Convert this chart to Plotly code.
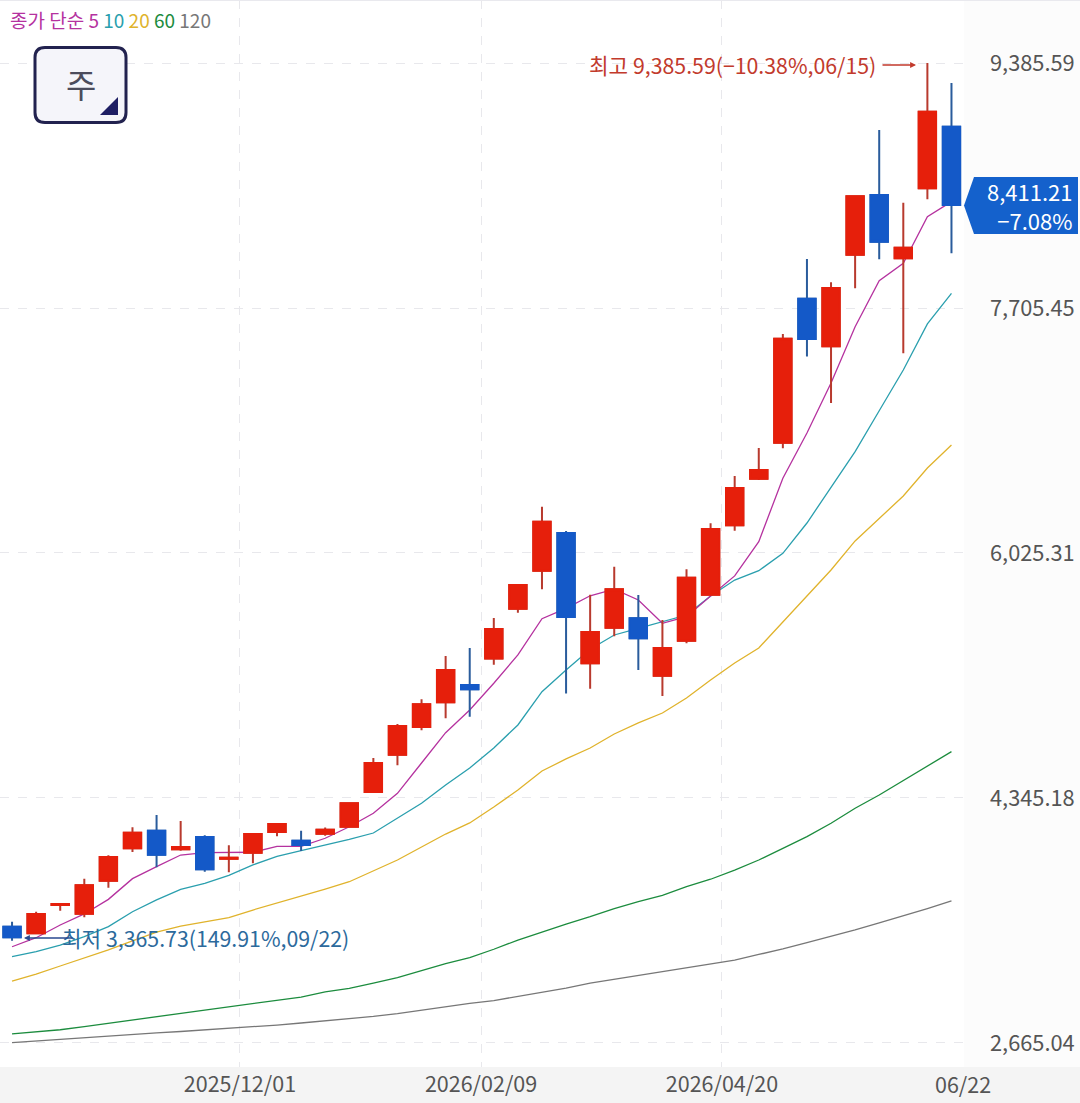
import plotly.graph_objects as go

WIDTH, HEIGHT = 1080, 1103
PLOT_W, PLOT_H = 964, 1067

opens = [3463, 3417, 3611, 3552, 3778, 4000, 4121, 3993, 4078, 3929,
         3970, 4112, 4052, 4100, 4148, 4386, 4642, 4832, 5001, 5120,
         5301, 5643, 5904, 6163, 5269, 5513, 5578, 5184, 5424, 5739,
         6215, 6535, 6782, 7769, 7443, 8071, 8481, 8047, 8526, 8949]
highs = [3497, 3565, 3618, 3792, 3952, 4144, 4229, 4187, 4089, 4021,
         4098, 4174, 4121, 4142, 4313, 4620, 4853, 5022, 5319, 5374,
         5580, 5806, 6343, 6176, 5739, 5931, 5737, 5566, 5914, 6229,
         6553, 6745, 7527, 8042, 7882, 8472, 8926, 8428, 9385.59, 9249]
lows = [3365.73, 3413, 3572, 3527, 3730, 3975, 3870, 3984, 3840, 3836,
        3897, 4083, 3982, 4087, 4148, 4382, 4569, 4809, 4892, 4903,
        5259, 5616, 5776, 5061, 5095, 5454, 5223, 5045, 5406, 5739,
        6178, 6526, 6743, 7372, 7054, 7841, 8040, 7395, 8451, 8081]
closes = [3390, 3550, 3618, 3746, 3941, 4107, 3956, 4009, 3856, 3936,
          4098, 4167, 4023, 4128, 4309, 4585, 4839, 4988, 5223, 5091,
          5504, 5806, 6240, 5586, 5484, 5776, 5440, 5374, 5856, 6190,
          6471, 6595, 7495, 7493, 7843, 8472, 8160, 8119, 9052, 8411.21]

ma5 = [3325, 3387, 3474, 3550, 3650, 3792, 3874, 3954, 3971, 3973,
       3973, 4014, 4014, 4069, 4148, 4240, 4377, 4585, 4793, 4949,
       5132, 5326, 5575, 5646, 5732, 5777, 5703, 5543, 5589, 5731,
       5868, 6103, 6538, 6848, 7191, 7577, 7893, 8012, 8332, 8435]
ma10 = [3257, 3291, 3337, 3394, 3463, 3565, 3646, 3719, 3760, 3815,
        3886, 3945, 3984, 4021, 4062, 4105, 4206, 4309, 4434, 4551,
        4688, 4846, 5074, 5223, 5365, 5463, 5509, 5554, 5600, 5731,
        5840, 5904, 6023, 6231, 6471, 6720, 7001, 7280, 7596, 7806]
ma20 = [3090, 3138, 3193, 3248, 3303, 3365, 3426, 3467, 3495, 3524,
        3577, 3625, 3668, 3721, 3771, 3845, 3920, 4009, 4098, 4174,
        4283, 4400, 4530, 4613, 4688, 4784, 4860, 4928, 5031, 5154,
        5271, 5374, 5552, 5737, 5909, 6108, 6259, 6416, 6608, 6766]
ma60 = [2727, 2740, 2756, 2778, 2801, 2823, 2846, 2869, 2891, 2915,
        2937, 2960, 2980, 3015, 3039, 3076, 3114, 3162, 3210, 3251,
        3308, 3371, 3428, 3481, 3531, 3586, 3634, 3678, 3737, 3788,
        3851, 3920, 4000, 4080, 4172, 4275, 4366, 4464, 4565, 4663]
ma120 = [2667, 2679, 2690, 2701, 2713, 2723, 2734, 2744, 2754, 2764,
         2777, 2788, 2802, 2816, 2830, 2847, 2866, 2891, 2912, 2936,
         2956, 2984, 3015, 3042, 3076, 3102, 3128, 3155, 3179, 3203,
         3234, 3272, 3310, 3354, 3395, 3440, 3488, 3536, 3587, 3639]

y_ticks = [2665.04, 4345.18, 6025.31, 7705.45, 9385.59]
y_labels = ["2,665.04", "4,345.18", "6,025.31", "7,705.45", "9,385.59"]
x_ticks = [9.46, 19.47, 29.47]
x_labels = ["2025/12/01", "2026/02/09", "2026/04/20"]

FONT = "Noto Sans CJK KR"
RED, BLUE = "#e61f0b", "#1459c8"
WICK_RED, WICK_BLUE = "#b83a2e", "#2a5c9c"
GRID = "#e8e8ec"
MA_COLORS = {"5": "#b5329f", "10": "#2a9fae", "20": "#e0b32c", "60": "#1c8c3e", "120": "#777777"}


# pixel position on the page -> paper coordinates
def px(x):
    return x / PLOT_W


def py(y):
    return 1 - y / PLOT_H


def path(points):
    return "M" + " L".join(f"{px(x)},{py(y)}" for x, y in points) + " Z"


x = list(range(len(closes)))
fig = go.Figure()

for name, values in [("120", ma120), ("60", ma60), ("20", ma20), ("10", ma10), ("5", ma5)]:
    fig.add_trace(go.Scatter(x=x, y=values, mode="lines", name=name,
                             line=dict(color=MA_COLORS[name], width=1.3)))

# wicks first, bodies on top so that they can have different colours
fig.add_trace(go.Candlestick(x=x, open=opens, high=highs, low=lows, close=closes,
                             xaxis="x2", yaxis="y2", whiskerwidth=0,
                             increasing=dict(line=dict(color=WICK_RED, width=2), fillcolor=RED),
                             decreasing=dict(line=dict(color=WICK_BLUE, width=2), fillcolor=BLUE)))
body_high = [max(o, c) for o, c in zip(opens, closes)]
body_low = [min(o, c) for o, c in zip(opens, closes)]
fig.add_trace(go.Candlestick(x=x, open=opens, high=body_high, low=body_low, close=closes,
                             xaxis="x2", yaxis="y2", whiskerwidth=0,
                             increasing=dict(line=dict(color=RED, width=2), fillcolor=RED),
                             decreasing=dict(line=dict(color=BLUE, width=2), fillcolor=BLUE)))

shapes = [
    dict(type="rect", xref="paper", yref="paper", x0=1, x1=px(WIDTH), y0=0, y1=1,
         fillcolor="#fcfcfc", line_width=0, layer="below"),
    dict(type="line", xref="paper", yref="paper", x0=0, x1=px(WIDTH), y0=py(0.5), y1=py(0.5),
         line=dict(color="#e9e9ee", width=1)),
    # price tag
    dict(type="path", xref="paper", yref="paper", fillcolor="#1461cc", line_width=0,
         path=path([(964, 205.5), (974, 177), (1078, 177), (1078, 234), (974, 234)])),
    # "주" button
    dict(type="path", xref="paper", yref="paper", fillcolor="#f5f5fa",
         line=dict(color="#22224f", width=3),
         path=f"M{px(45)},{py(47.5)} L{px(116)},{py(47.5)} Q{px(126)},{py(47.5)} {px(126)},{py(57.5)} "
              f"L{px(126)},{py(112.5)} Q{px(126)},{py(122.5)} {px(116)},{py(122.5)} "
              f"L{px(45)},{py(122.5)} Q{px(35)},{py(122.5)} {px(35)},{py(112.5)} "
              f"L{px(35)},{py(57.5)} Q{px(35)},{py(47.5)} {px(45)},{py(47.5)} Z"),
    dict(type="path", xref="paper", yref="paper", fillcolor="#1e1e64", line_width=0,
         path=path([(118, 97), (118, 115), (100, 115)])),
]

legend_text = (f"<span style='color:{MA_COLORS['5']}'>종가 단순 5</span> "
               f"<span style='color:{MA_COLORS['10']}'>10</span> "
               f"<span style='color:{MA_COLORS['20']}'>20</span> "
               f"<span style='color:{MA_COLORS['60']}'>60</span> "
               f"<span style='color:{MA_COLORS['120']}'>120</span>")


def note(x_px, y_px, text, size, color, anchor="left"):
    return dict(xref="paper", yref="paper", x=px(x_px), y=py(y_px), text=text, showarrow=False,
                xanchor=anchor, yanchor="middle", align=anchor,
                font=dict(family=FONT, size=size, color=color))


annotations = [
    note(8, 20, legend_text, 19, "#777777"),
    note(81, 84, "주", 33, "#4c4c5c", "center"),
    note(878, 64, "최고 9,385.59(−10.38%,06/15)", 21.3, "#c23a2c", "right"),
    note(60, 937, "최저 3,365.73(149.91%,09/22)", 21.3, "#2c6a9c"),
    note(1075, 205, "8,411.21<br>−7.08%", 22, "#ffffff", "right"),
    note(963, 1083, "06/22", 21.5, "#555555", "center"),
    dict(xref="paper", yref="paper", x=px(916), y=py(65), ax=-35, ay=0, text="", showarrow=True,
         arrowhead=2, arrowsize=0.9, arrowwidth=1.3, arrowcolor="#c23a2c"),
    dict(xref="paper", yref="paper", x=px(24), y=py(938), ax=50, ay=0, text="", showarrow=True,
         arrowhead=2, arrowsize=0.9, arrowwidth=1.3, arrowcolor="#2a4a90"),
]

x_range = [-0.5, 39.52]
y_range = [2500.4, 9817.6]

fig.update_layout(
    width=WIDTH, height=HEIGHT,
    margin=dict(l=0, r=WIDTH - PLOT_W, t=0, b=HEIGHT - PLOT_H, pad=0),
    paper_bgcolor="#f4f4f4", plot_bgcolor="#ffffff",
    showlegend=False, boxgap=0.28, boxgroupgap=0,
    font=dict(family=FONT, size=20, color="#555555"),
    shapes=shapes, annotations=annotations,
    xaxis=dict(range=x_range, tickmode="array", tickvals=x_ticks, ticktext=x_labels,
               showgrid=True, gridcolor=GRID, griddash="dash", gridwidth=1,
               ticks="", zeroline=False, rangeslider=dict(visible=False),
               tickfont=dict(size=21.5, color="#555555"), ticklabelstandoff=2),
    yaxis=dict(range=y_range, side="right", tickmode="array", tickvals=y_ticks, ticktext=y_labels,
               showgrid=True, gridcolor=GRID, griddash="dash", gridwidth=1,
               ticks="", zeroline=False, ticklabelstandoff=25,
               tickfont=dict(size=21.8, color="#555555")),
    xaxis2=dict(range=x_range, overlaying="x", matches="x", visible=False,
                rangeslider=dict(visible=False)),
    yaxis2=dict(range=y_range, overlaying="y", matches="y", visible=False),
)

fig.write_html("out.html", config=dict(displayModeBar=False),
               post_script="document.body.style.margin='0';")
